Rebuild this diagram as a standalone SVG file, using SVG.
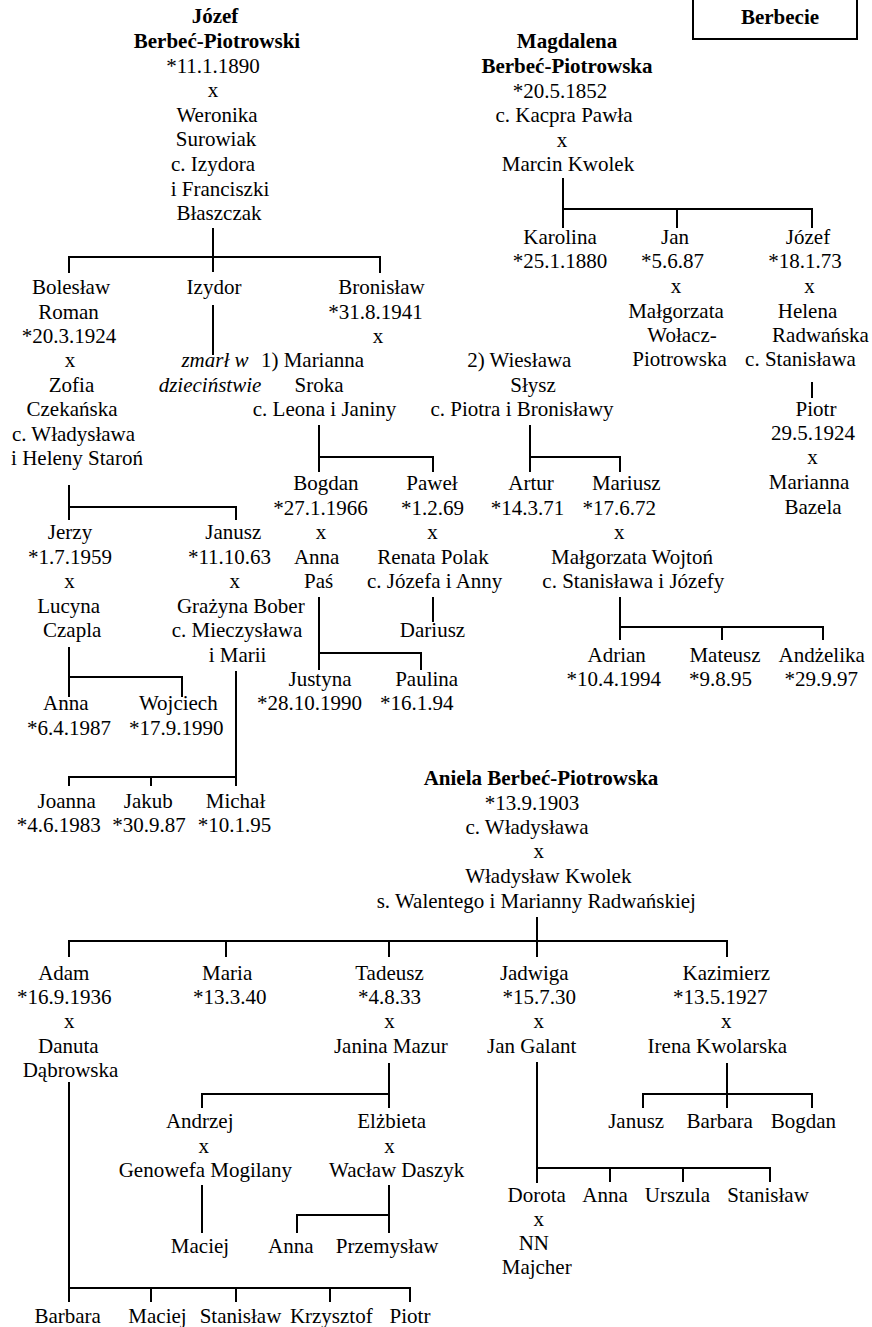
<svg xmlns="http://www.w3.org/2000/svg" width="872" height="1327" viewBox="0 0 872 1327">
<style>
text{font-family:"Liberation Serif","Times New Roman",serif;font-size:21px;fill:#000;text-anchor:middle}
.b{font-weight:bold}
.i{font-style:italic}
.c{fill:none;stroke:#000;stroke-width:2}
</style>
<rect width="872" height="1327" fill="#fff"/>
<g id="title"><rect x="693" y="-40" width="164" height="79" fill="none" stroke="#000" stroke-width="2"/><text class="b" x="780" y="24">Berbecie</text></g>
<g id="jozef"><text class="b" x="215" y="23">Józef</text><text class="b" x="217" y="48">Berbeć-Piotrowski</text><text x="213" y="73">*11.1.1890</text><text x="213" y="97">x</text><text x="217" y="122">Weronika</text><text x="216" y="146">Surowiak</text><text x="213" y="171">c. Izydora</text><text x="220" y="196">i Franciszki</text><text x="219" y="220">Błaszczak</text></g>
<g id="magdalena"><text class="b" x="567" y="48">Magdalena</text><text class="b" x="567" y="73">Berbeć-Piotrowska</text><text x="560" y="97.5">*20.5.1852</text><text x="564" y="122">c. Kacpra Pawła</text><text x="562" y="146.5">x</text><text x="568" y="171">Marcin Kwolek</text></g>
<g id="karolina"><text x="560" y="243.5">Karolina</text><text x="560" y="268">*25.1.1880</text></g>
<g id="jan"><text x="675" y="243.5">Jan</text><text x="672.5" y="268">*5.6.87</text><text x="676" y="292.5">x</text><text x="676" y="317.5">Małgorzata</text><text x="682" y="342">Wołacz-</text><text x="679.5" y="366">Piotrowska</text></g>
<g id="jozef2"><text x="808" y="243.5">Józef</text><text x="805" y="268">*18.1.73</text><text x="809.5" y="292.5">x</text><text x="807.5" y="317.5">Helena</text><text x="820.5" y="342">Radwańska</text><text x="800.5" y="366">c. Stanisława</text></g>
<g id="piotr"><text x="816" y="416">Piotr</text><text x="813" y="440">29.5.1924</text><text x="812.5" y="464">x</text><text x="809" y="489">Marianna</text><text x="813" y="514">Bazela</text></g>
<g id="boleslaw"><text x="71" y="294.3">Bolesław</text><text x="68.5" y="318.5">Roman</text><text x="69" y="343">*20.3.1924</text><text x="70" y="367">x</text><text x="71.5" y="392">Zofia</text><text x="72" y="416">Czekańska</text><text x="73.5" y="440.5">c. Władysława</text><text x="77" y="465">i Heleny Staroń</text></g>
<g id="izydor"><text x="214" y="294.3">Izydor</text><text class="i" x="215" y="367">zmarł w</text><text class="i" x="210" y="392">dzieciństwie</text></g>
<g id="bronislaw"><text x="381.5" y="294.3">Bronisław</text><text x="375.5" y="318.5">*31.8.1941</text><text x="378" y="343">x</text></g>
<g id="marianna"><text x="312.5" y="367">1) Marianna</text><text x="319" y="392">Sroka</text><text x="324.5" y="416">c. Leona i Janiny</text></g>
<g id="wieslawa"><text x="519.3" y="367">2) Wiesława</text><text x="533" y="392">Słysz</text><text x="522" y="416">c. Piotra i Bronisławy</text></g>
<g id="bogdan"><text x="325.8" y="490">Bogdan</text><text x="320.5" y="515">*27.1.1966</text><text x="321" y="539">x</text><text x="316.7" y="563.5">Anna</text><text x="318.7" y="588">Paś</text></g>
<g id="pawel"><text x="432" y="490">Paweł</text><text x="432.5" y="515">*1.2.69</text><text x="432.5" y="539">x</text><text x="433" y="563.5">Renata Polak</text><text x="434.7" y="588">c. Józefa i Anny</text></g>
<g id="dariusz"><text x="432.5" y="637">Dariusz</text></g>
<g id="artur"><text x="531" y="490">Artur</text><text x="527.5" y="515">*14.3.71</text></g>
<g id="mariusz"><text x="626.3" y="490">Mariusz</text><text x="619.3" y="515">*17.6.72</text><text x="619.2" y="539">x</text><text x="632" y="563.5">Małgorzata Wojtoń</text><text x="633.3" y="588">c. Stanisława i Józefy</text></g>
<g id="adrian"><text x="616.7" y="661.7">Adrian</text><text x="613.7" y="685.5">*10.4.1994</text></g>
<g id="mateusz"><text x="725" y="661.7">Mateusz</text><text x="720.5" y="685.5">*9.8.95</text></g>
<g id="andzelika"><text x="821.7" y="661.7">Andżelika</text><text x="821.3" y="685.5">*29.9.97</text></g>
<g id="justyna"><text x="320" y="685.5">Justyna</text><text x="309.5" y="710">*28.10.1990</text></g>
<g id="paulina"><text x="426.7" y="685.5">Paulina</text><text x="416.7" y="710">*16.1.94</text></g>
<g id="jerzy"><text x="70" y="539.3">Jerzy</text><text x="70" y="563.5">*1.7.1959</text><text x="69.5" y="588">x</text><text x="68.7" y="612.7">Lucyna</text><text x="72.2" y="637">Czapla</text></g>
<g id="janusz"><text x="233.3" y="539.3">Janusz</text><text x="229.5" y="563.5">*11.10.63</text><text x="234.7" y="588">x</text><text x="240.8" y="612.7">Grażyna Bober</text><text x="237" y="637">c. Mieczysława</text><text x="237.5" y="661.7">i Marii</text></g>
<g id="anna1"><text x="65.8" y="710">Anna</text><text x="69" y="735">*6.4.1987</text></g>
<g id="wojciech"><text x="178.3" y="710">Wojciech</text><text x="176.3" y="735">*17.9.1990</text></g>
<g id="joanna"><text x="66.7" y="808.3">Joanna</text><text x="58.7" y="832">*4.6.1983</text></g>
<g id="jakub"><text x="148.3" y="808.3">Jakub</text><text x="149" y="832">*30.9.87</text></g>
<g id="michal"><text x="235.5" y="808.3">Michał</text><text x="234.5" y="832">*10.1.95</text></g>
<g id="aniela"><text class="b" x="541" y="785">Aniela Berbeć-Piotrowska</text><text x="532" y="809.5">*13.9.1903</text><text x="527" y="833.5">c. Władysława</text><text x="538.7" y="857.5">x</text><text x="548.3" y="883">Władysław Kwolek</text><text x="536.3" y="907.5">s. Walentego i Marianny Radwańskiej</text></g>
<g id="adam"><text x="63.8" y="980">Adam</text><text x="64.2" y="1004">*16.9.1936</text><text x="69.3" y="1028.3">x</text><text x="68.3" y="1052.7">Danuta</text><text x="70.5" y="1077">Dąbrowska</text></g>
<g id="maria"><text x="227.2" y="980">Maria</text><text x="229.7" y="1004">*13.3.40</text></g>
<g id="tadeusz"><text x="389.5" y="980">Tadeusz</text><text x="389.5" y="1004">*4.8.33</text><text x="389.5" y="1028.3">x</text><text x="390.8" y="1052.7">Janina Mazur</text></g>
<g id="jadwiga"><text x="534.3" y="980">Jadwiga</text><text x="539.3" y="1004">*15.7.30</text><text x="538.7" y="1028.3">x</text><text x="531.7" y="1052.7">Jan Galant</text></g>
<g id="kazimierz"><text x="726.3" y="980">Kazimierz</text><text x="720.3" y="1004">*13.5.1927</text><text x="726.2" y="1028.3">x</text><text x="717.3" y="1052.7">Irena Kwolarska</text></g>
<g id="andrzej"><text x="199.7" y="1128.3">Andrzej</text><text x="203.8" y="1152.7">x</text><text x="205.3" y="1177">Genowefa Mogilany</text></g>
<g id="elzbieta"><text x="391.7" y="1128.3">Elżbieta</text><text x="389.5" y="1152.7">x</text><text x="396.7" y="1177">Wacław Daszyk</text></g>
<g id="maciej1"><text x="200" y="1252.7">Maciej</text></g>
<g id="anna2"><text x="290.8" y="1252.7">Anna</text></g>
<g id="przemyslaw"><text x="387.2" y="1252.7">Przemysław</text></g>
<g id="janusz2"><text x="636.2" y="1128.3">Janusz</text></g>
<g id="barbara2"><text x="719.7" y="1128.3">Barbara</text></g>
<g id="bogdan2"><text x="803.3" y="1128.3">Bogdan</text></g>
<g id="dorota"><text x="536.7" y="1201.7">Dorota</text><text x="538.7" y="1226">x</text><text x="533.8" y="1250">NN</text><text x="536.7" y="1274">Majcher</text></g>
<g id="anna3"><text x="605" y="1201.7">Anna</text></g>
<g id="urszula"><text x="677.5" y="1201.7">Urszula</text></g>
<g id="stanislaw2"><text x="768" y="1201.7">Stanisław</text></g>
<g id="barbara"><text x="67.7" y="1323">Barbara</text></g>
<g id="maciej2"><text x="157.5" y="1323">Maciej</text></g>
<g id="stanislaw"><text x="240.5" y="1323">Stanisław</text></g>
<g id="krzysztof"><text x="331.3" y="1323">Krzysztof</text></g>
<g id="piotr2"><text x="410" y="1323">Piotr</text></g>
<g id="connectors">
<path class="c" d="M213,228 V272 M69,273 V257 H380 V273"/>
<path class="c" d="M213,305 V355"/>
<path class="c" d="M319,425 V472 M319,457 H433 V472"/>
<path class="c" d="M530,425 V472 M530,457 H620 V472"/>
<path class="c" d="M563,178 V228 M563,209 H812 V228 M677,209 V228"/>
<path class="c" d="M812,382 V398"/>
<path class="c" d="M69,485 V520 M69,507 H236 V520"/>
<path class="c" d="M319,597 V670 M319,653 H421 V670"/>
<path class="c" d="M433,597 V622"/>
<path class="c" d="M620,597 V640 M620,627 H823 V640 M722,627 V640"/>
<path class="c" d="M69,647 V697 M69,677 H182 V697"/>
<path class="c" d="M236,671 V786 M69,786 V777 H236 M151,777 V786"/>
<path class="c" d="M537,917 V957 M69,957 V941 H727 V957 M226,941 V957 M389,941 V957"/>
<path class="c" d="M389,1063 V1108 M202,1108 V1094 H389"/>
<path class="c" d="M202,1185 V1233"/>
<path class="c" d="M389,1185 V1233 M297,1233 V1215 H389"/>
<path class="c" d="M69,1082 V1302 M69,1288 H410 V1302 M151,1288 V1302 M236,1288 V1302 M330,1288 V1302"/>
<path class="c" d="M537,1062 V1183 M537,1168 H770 V1182 M610,1168 V1182 M683,1168 V1182"/>
<path class="c" d="M727,1063 V1108 M643,1108 V1094 H812 V1108"/>
</g>
</svg>
